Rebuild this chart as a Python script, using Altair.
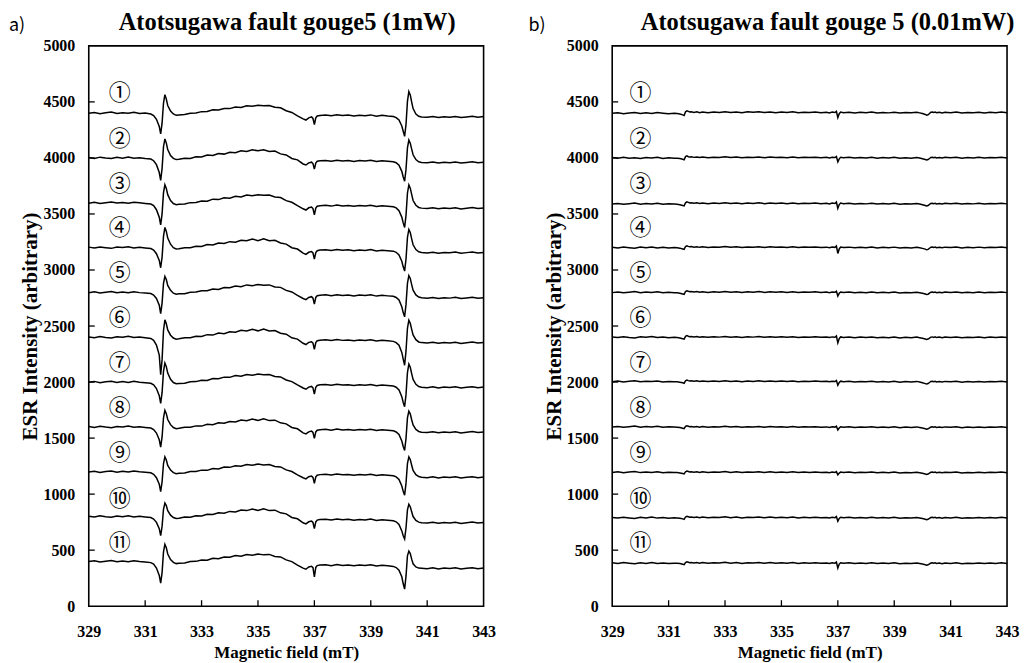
import altair as alt
import pandas as pd

# Magnetic field sample positions (mT)
FIELD = [329.0, 329.2, 329.4, 329.6, 329.8, 330.0, 330.2, 330.4, 330.6, 330.8, 331.0, 331.2,
         331.3, 331.4, 331.5, 331.55, 331.6, 331.65, 331.7, 331.75, 331.8, 331.9, 332.0, 332.1, 332.2,
         332.4, 332.6, 332.8, 333.0, 333.2, 333.4, 333.6, 333.8, 334.0, 334.2, 334.4, 334.6, 334.8,
         335.0, 335.2, 335.4, 335.6, 335.8, 336.0, 336.2, 336.4,
         336.6, 336.7, 336.8, 336.9, 336.95, 337.0, 337.05, 337.1, 337.2,
         337.4, 337.6, 337.8, 338.0, 338.2, 338.4, 338.6, 338.8, 339.0, 339.2, 339.4, 339.6, 339.8,
         339.9, 340.0, 340.1, 340.15, 340.2, 340.25, 340.3, 340.35, 340.4, 340.45, 340.5, 340.6, 340.7, 340.8,
         341.0, 341.2, 341.4, 341.6, 341.8, 342.0, 342.2, 342.4, 342.6, 342.8, 343.0]

# ---- panel a) 1 mW spectra ----
A1 = [4398, 4406, 4394, 4403, 4409, 4396, 4404, 4398, 4407, 4396, 4401, 4392,
      4378, 4345, 4280, 4215, 4310, 4490, 4565, 4525, 4468, 4418, 4392, 4380, 4384,
      4387, 4399, 4401, 4413, 4414, 4429, 4427, 4441, 4440, 4455, 4451, 4466, 4462, 4470, 4466, 4468, 4453, 4448, 4421, 4406, 4376,
      4348, 4338, 4358, 4366, 4352, 4298, 4358, 4374, 4379,
      4383, 4376, 4385, 4379, 4382, 4374, 4381, 4377, 4384, 4372, 4380, 4374, 4370,
      4360, 4338, 4285, 4238, 4192, 4300, 4505, 4592, 4562, 4498, 4440, 4392, 4372, 4366,
      4362, 4369, 4360, 4367, 4363, 4370, 4361, 4366, 4372, 4364, 4369]
A2 = [4003, 3996, 4007, 3999, 3994, 4005, 3998, 4009, 3997, 4002, 3995, 3990,
      3975, 3940, 3870, 3800, 3905, 4100, 4170, 4132, 4075, 4022, 3996, 3985, 3988,
      3998, 3996, 4011, 4008, 4026, 4021, 4040, 4034, 4050, 4046, 4064, 4058, 4072, 4064, 4072, 4057, 4061, 4036, 4027, 3995, 3983,
      3946, 3937, 3956, 3962, 3950, 3900, 3955, 3970, 3975,
      3978, 3971, 3980, 3973, 3977, 3969, 3976, 3972, 3979, 3968, 3974, 3970, 3966,
      3957, 3935, 3880, 3830, 3792, 3900, 4090, 4160, 4132, 4078, 4028, 3985, 3966, 3960,
      3957, 3963, 3955, 3961, 3958, 3964, 3954, 3960, 3966, 3957, 3962]
A3 = [3596, 3604, 3593, 3601, 3607, 3598, 3603, 3595, 3605, 3599, 3594, 3588,
      3574, 3538, 3470, 3402, 3500, 3690, 3760, 3728, 3672, 3620, 3593, 3582, 3586,
      3588, 3601, 3603, 3615, 3614, 3632, 3628, 3645, 3641, 3658, 3651, 3668, 3662, 3672, 3666, 3669, 3651, 3646, 3619, 3604, 3574,
      3546, 3535, 3555, 3561, 3548, 3492, 3553, 3569, 3574,
      3577, 3570, 3579, 3572, 3576, 3568, 3575, 3571, 3578, 3566, 3573, 3568, 3564,
      3554, 3530, 3472, 3420, 3380, 3490, 3685, 3760, 3730, 3674, 3620, 3578, 3558, 3552,
      3548, 3555, 3546, 3553, 3549, 3556, 3545, 3551, 3557, 3548, 3553]
A4 = [3204, 3197, 3206, 3199, 3193, 3205, 3200, 3208, 3196, 3203, 3197, 3191,
      3178, 3145, 3085, 3020, 3115, 3300, 3380, 3345, 3285, 3230, 3199, 3187, 3190,
      3199, 3199, 3212, 3210, 3227, 3223, 3241, 3236, 3253, 3247, 3266, 3261, 3276, 3262, 3278, 3261, 3265, 3241, 3231, 3199, 3187,
      3150, 3139, 3158, 3164, 3152, 3097, 3156, 3172, 3178,
      3181, 3174, 3183, 3176, 3180, 3172, 3179, 3175, 3182, 3170, 3177, 3172, 3168,
      3158, 3135, 3078, 3028, 2990, 3100, 3290, 3362, 3334, 3278, 3225, 3182, 3162, 3156,
      3152, 3159, 3150, 3157, 3153, 3160, 3149, 3155, 3161, 3152, 3157]
A5 = [2797, 2805, 2794, 2802, 2808, 2797, 2803, 2796, 2806, 2798, 2795, 2790,
      2777, 2746, 2685, 2610, 2705, 2880, 2942, 2915, 2862, 2818, 2793, 2783, 2787,
      2789, 2802, 2803, 2815, 2814, 2830, 2827, 2843, 2841, 2856, 2851, 2867, 2860, 2870, 2864, 2867, 2849, 2845, 2818, 2804, 2774,
      2746, 2736, 2755, 2762, 2749, 2696, 2755, 2770, 2775,
      2778, 2771, 2780, 2773, 2777, 2769, 2776, 2772, 2779, 2767, 2774, 2769, 2765,
      2755, 2732, 2672, 2620, 2582, 2695, 2880, 2950, 2925, 2870, 2820, 2778, 2759, 2752,
      2748, 2755, 2746, 2753, 2749, 2756, 2745, 2751, 2757, 2748, 2753]
A6 = [2403, 2396, 2407, 2398, 2393, 2405, 2399, 2408, 2397, 2402, 2396, 2389,
      2372, 2330, 2240, 2065, 2200, 2460, 2555, 2520, 2465, 2418, 2393, 2382, 2386,
      2396, 2395, 2408, 2406, 2423, 2419, 2437, 2432, 2448, 2444, 2462, 2456, 2471, 2457, 2473, 2456, 2460, 2436, 2427, 2395, 2383,
      2346, 2335, 2354, 2360, 2348, 2292, 2353, 2369, 2374,
      2377, 2370, 2379, 2372, 2376, 2368, 2375, 2371, 2378, 2366, 2373, 2368, 2363,
      2352, 2328, 2265, 2205, 2150, 2280, 2480, 2552, 2525, 2470, 2420, 2378, 2358, 2352,
      2348, 2355, 2346, 2353, 2349, 2356, 2345, 2351, 2357, 2348, 2353]
A7 = [1998, 2006, 1995, 2003, 2008, 1996, 2004, 1997, 2007, 1999, 1994, 1989,
      1975, 1942, 1878, 1810, 1905, 2095, 2170, 2138, 2080, 2025, 1996, 1985, 1988,
      1990, 2003, 2004, 2017, 2015, 2032, 2029, 2044, 2042, 2058, 2052, 2068, 2061, 2071, 2065, 2068, 2050, 2046, 2019, 2004, 1974,
      1947, 1936, 1955, 1961, 1949, 1893, 1954, 1970, 1975,
      1978, 1971, 1980, 1973, 1977, 1969, 1976, 1972, 1979, 1967, 1974, 1969, 1964,
      1954, 1930, 1870, 1818, 1780, 1890, 2085, 2160, 2132, 2076, 2024, 1980, 1960, 1954,
      1950, 1957, 1948, 1955, 1951, 1958, 1947, 1953, 1959, 1950, 1955]
A8 = [1603, 1595, 1606, 1598, 1592, 1604, 1599, 1607, 1596, 1601, 1595, 1590,
      1576, 1545, 1485, 1420, 1510, 1680, 1748, 1718, 1666, 1620, 1594, 1584, 1587,
      1597, 1596, 1609, 1607, 1623, 1620, 1636, 1632, 1648, 1643, 1662, 1655, 1671, 1657, 1672, 1656, 1660, 1636, 1627, 1595, 1583,
      1547, 1537, 1556, 1562, 1550, 1497, 1555, 1570, 1575,
      1578, 1571, 1580, 1573, 1577, 1569, 1576, 1572, 1579, 1567, 1574, 1569, 1565,
      1555, 1532, 1474, 1425, 1390, 1500, 1680, 1740, 1716, 1664, 1617, 1577, 1559, 1553,
      1549, 1556, 1547, 1554, 1550, 1557, 1546, 1552, 1558, 1549, 1554]
A9 = [1197, 1204, 1194, 1202, 1207, 1196, 1203, 1197, 1206, 1199, 1195, 1190,
      1177, 1147, 1088, 1022, 1110, 1272, 1332, 1305, 1256, 1215, 1192, 1183, 1186,
      1188, 1201, 1202, 1214, 1212, 1229, 1225, 1241, 1239, 1254, 1249, 1264, 1258, 1268, 1261, 1265, 1247, 1243, 1216, 1202, 1172,
      1146, 1136, 1155, 1161, 1149, 1096, 1154, 1169, 1174,
      1177, 1170, 1179, 1172, 1176, 1168, 1175, 1171, 1178, 1166, 1173, 1168, 1164,
      1154, 1131, 1072, 1025, 990, 1100, 1272, 1332, 1308, 1258, 1212, 1174, 1157, 1151,
      1147, 1154, 1145, 1152, 1148, 1155, 1144, 1150, 1156, 1147, 1152]
A10 = [803, 796, 806, 798, 793, 805, 799, 807, 797, 802, 796, 791,
       778, 748, 692, 630, 712, 865, 920, 898, 852, 812, 791, 782, 785,
       795, 794, 807, 805, 821, 818, 834, 830, 846, 841, 859, 853, 868, 854, 870, 853, 857, 833, 824, 792, 780,
       744, 734, 753, 759, 747, 693, 752, 768, 773,
       776, 769, 778, 771, 775, 767, 774, 770, 777, 765, 772, 767, 763,
       753, 730, 672, 628, 600, 700, 860, 910, 888, 842, 800, 765, 750, 745,
       742, 749, 740, 747, 743, 750, 739, 745, 751, 742, 747]
A11 = [398, 405, 394, 402, 408, 396, 403, 397, 406, 399, 395, 389,
       375, 340, 275, 205, 300, 485, 552, 522, 466, 416, 391, 380, 384,
       386, 399, 400, 412, 410, 427, 423, 439, 437, 452, 446, 461, 455, 465, 458, 462, 444, 440, 413, 398, 367,
       340, 330, 350, 356, 344, 262, 346, 362, 367,
       369, 362, 371, 364, 368, 360, 367, 363, 370, 358, 365, 360, 355,
       345, 322, 262, 200, 152, 270, 450, 492, 470, 420, 378, 350, 340, 338,
       335, 342, 333, 340, 336, 343, 332, 338, 344, 335, 340]

# ---- panel b) 0.01 mW spectra ----
B1 = [4398, 4404, 4395, 4401, 4406, 4397, 4402, 4396, 4405, 4399, 4394, 4398,
      4396, 4392, 4384, 4378, 4412, 4420, 4415, 4410, 4412,
      4406, 4411, 4404, 4409, 4403, 4410, 4405, 4412, 4406, 4409, 4403, 4411, 4407, 4413, 4405, 4410, 4404, 4409, 4406, 4411, 4403, 4408, 4405, 4410, 4404,
      4408, 4402, 4409, 4405, 4416, 4360, 4395, 4410, 4404,
      4408, 4401, 4407, 4403, 4409, 4400, 4406, 4402, 4408, 4401, 4406, 4403, 4407, 4402,
      4396, 4388, 4382, 4385, 4396, 4408, 4410,
      4405, 4409, 4403, 4407, 4402, 4408, 4404, 4409, 4401, 4406, 4403, 4408, 4402, 4407, 4404, 4409, 4403]
B2 = [4003, 3997, 4005, 3998, 4002, 3995, 4004, 3999, 4006, 3996, 4001, 3998,
      3997, 3994, 3988, 3983, 4012, 4018, 4011, 4008, 4010,
      4005, 4009, 4003, 4008, 4002, 4007, 4004, 4010, 4003, 4008, 4001, 4007, 4004, 4009, 4002, 4008, 4003, 4007, 4002, 4008, 4001, 4006, 4003, 4007, 4002,
      4005, 4000, 4006, 4003, 4012, 3965, 3992, 4006, 4001,
      4005, 3999, 4004, 4000, 4006, 3998, 4003, 3999, 4005, 3997, 4002, 3998, 4004, 3999,
      3993, 3986, 3982, 3986, 3995, 4004, 4006,
      4002, 4006, 4000, 4004, 3999, 4005, 4001, 4006, 3998, 4003, 4000, 4005, 3999, 4004, 4001, 4006, 4000]
B3 = [3588, 3594, 3586, 3592, 3597, 3587, 3593, 3589, 3595, 3586, 3591, 3588,
      3587, 3583, 3576, 3572, 3600, 3608, 3603, 3598, 3600,
      3595, 3599, 3593, 3598, 3592, 3597, 3594, 3600, 3593, 3598, 3591, 3597, 3594, 3599, 3592, 3598, 3593, 3597, 3592, 3598, 3591, 3596, 3593, 3597, 3592,
      3595, 3590, 3597, 3593, 3606, 3550, 3584, 3597, 3592,
      3595, 3589, 3594, 3590, 3596, 3588, 3593, 3589, 3595, 3587, 3592, 3588, 3594, 3589,
      3583, 3576, 3571, 3575, 3585, 3594, 3596,
      3592, 3596, 3590, 3594, 3589, 3595, 3591, 3596, 3588, 3593, 3590, 3595, 3589, 3594, 3591, 3596, 3590]
B4 = [3203, 3197, 3205, 3199, 3194, 3204, 3198, 3206, 3197, 3202, 3196, 3200,
      3198, 3195, 3188, 3184, 3210, 3216, 3211, 3207, 3209,
      3204, 3208, 3202, 3207, 3201, 3206, 3203, 3209, 3202, 3207, 3200, 3206, 3203, 3208, 3201, 3207, 3202, 3206, 3201, 3207, 3200, 3205, 3202, 3206, 3201,
      3204, 3199, 3205, 3202, 3214, 3148, 3188, 3204, 3200,
      3204, 3198, 3203, 3199, 3205, 3197, 3202, 3198, 3204, 3196, 3201, 3197, 3203, 3198,
      3193, 3186, 3180, 3184, 3194, 3203, 3205,
      3201, 3205, 3199, 3203, 3198, 3204, 3200, 3205, 3197, 3202, 3199, 3204, 3198, 3203, 3200, 3205, 3199]
B5 = [2798, 2804, 2796, 2802, 2807, 2797, 2803, 2799, 2805, 2796, 2801, 2798,
      2797, 2793, 2786, 2782, 2808, 2815, 2810, 2806, 2808,
      2803, 2807, 2801, 2806, 2800, 2805, 2802, 2808, 2801, 2806, 2799, 2805, 2802, 2807, 2800, 2806, 2801, 2805, 2800, 2806, 2799, 2804, 2801, 2805, 2800,
      2803, 2798, 2804, 2801, 2810, 2768, 2792, 2804, 2799,
      2803, 2797, 2802, 2798, 2804, 2796, 2801, 2797, 2803, 2795, 2800, 2796, 2802, 2797,
      2792, 2786, 2781, 2784, 2793, 2802, 2804,
      2800, 2804, 2798, 2802, 2797, 2803, 2799, 2804, 2796, 2801, 2798, 2803, 2797, 2802, 2799, 2804, 2798]
B6 = [2403, 2397, 2405, 2398, 2394, 2404, 2399, 2406, 2397, 2402, 2396, 2400,
      2398, 2394, 2387, 2383, 2408, 2414, 2409, 2405, 2407,
      2402, 2406, 2400, 2405, 2399, 2404, 2401, 2407, 2400, 2405, 2398, 2404, 2401, 2406, 2399, 2405, 2400, 2404, 2399, 2405, 2398, 2403, 2400, 2404, 2399,
      2402, 2397, 2403, 2400, 2412, 2350, 2388, 2403, 2398,
      2402, 2396, 2401, 2397, 2403, 2395, 2400, 2396, 2402, 2394, 2399, 2395, 2401, 2396,
      2391, 2385, 2381, 2384, 2392, 2401, 2403,
      2399, 2403, 2397, 2401, 2396, 2402, 2398, 2403, 2395, 2400, 2397, 2402, 2396, 2401, 2398, 2403, 2397]
B7 = [2003, 2009, 2001, 2007, 2012, 2002, 2008, 2004, 2010, 2001, 2006, 2003,
      2002, 1999, 1993, 1989, 2012, 2018, 2013, 2010, 2012,
      2007, 2011, 2005, 2010, 2004, 2009, 2006, 2012, 2005, 2010, 2003, 2009, 2006, 2011, 2004, 2010, 2005, 2009, 2004, 2010, 2003, 2008, 2005, 2009, 2004,
      2007, 2002, 2008, 2005, 2014, 1972, 1996, 2008, 2003,
      2007, 2001, 2006, 2002, 2008, 2000, 2005, 2001, 2007, 1999, 2004, 2000, 2006, 2001,
      1994, 1986, 1982, 1987, 1996, 2005, 2007,
      2003, 2007, 2001, 2005, 2000, 2006, 2002, 2007, 1999, 2004, 2001, 2006, 2000, 2005, 2002, 2007, 2001]
B8 = [1598, 1604, 1596, 1602, 1607, 1597, 1603, 1599, 1605, 1596, 1601, 1598,
      1597, 1594, 1588, 1584, 1604, 1610, 1606, 1602, 1604,
      1600, 1604, 1598, 1603, 1597, 1602, 1599, 1605, 1598, 1603, 1596, 1602, 1599, 1604, 1597, 1603, 1598, 1602, 1597, 1603, 1596, 1601, 1598, 1602, 1597,
      1600, 1595, 1601, 1598, 1606, 1572, 1590, 1601, 1597,
      1601, 1595, 1600, 1596, 1602, 1594, 1599, 1595, 1601, 1593, 1598, 1594, 1600, 1595,
      1590, 1584, 1580, 1583, 1591, 1599, 1601,
      1597, 1601, 1595, 1599, 1594, 1600, 1596, 1601, 1593, 1598, 1595, 1600, 1594, 1599, 1596, 1601, 1595]
B9 = [1193, 1199, 1191, 1197, 1202, 1192, 1198, 1194, 1200, 1191, 1196, 1193,
      1192, 1189, 1184, 1180, 1200, 1206, 1202, 1198, 1200,
      1196, 1200, 1194, 1199, 1193, 1198, 1195, 1201, 1194, 1199, 1192, 1198, 1195, 1200, 1193, 1199, 1194, 1198, 1193, 1199, 1192, 1197, 1194, 1198, 1193,
      1196, 1191, 1197, 1194, 1201, 1172, 1188, 1197, 1193,
      1197, 1191, 1196, 1192, 1198, 1190, 1195, 1191, 1197, 1189, 1194, 1190, 1196, 1191,
      1186, 1180, 1176, 1179, 1187, 1195, 1197,
      1193, 1197, 1191, 1195, 1190, 1196, 1192, 1197, 1189, 1194, 1191, 1196, 1190, 1195, 1192, 1197, 1191]
B10 = [792, 786, 794, 788, 783, 793, 787, 795, 786, 791, 785, 789,
       788, 785, 779, 775, 796, 802, 798, 794, 796,
       792, 796, 790, 795, 789, 794, 791, 797, 790, 795, 788, 794, 791, 796, 789, 795, 790, 794, 789, 795, 788, 793, 790, 794, 789,
       792, 787, 793, 790, 800, 758, 783, 794, 789,
       793, 787, 792, 788, 794, 786, 791, 787, 793, 785, 790, 786, 792, 787,
       782, 776, 772, 775, 783, 791, 793,
       789, 793, 787, 791, 786, 792, 788, 793, 785, 790, 787, 792, 786, 791, 788, 793, 787]
B11 = [387, 381, 389, 383, 378, 388, 382, 390, 381, 386, 380, 384,
       383, 380, 374, 370, 390, 396, 392, 388, 390,
       386, 390, 384, 389, 383, 388, 385, 391, 384, 389, 382, 388, 385, 390, 383, 389, 384, 388, 383, 389, 382, 387, 384, 388, 383,
       386, 381, 387, 384, 394, 340, 376, 388, 383,
       387, 381, 386, 382, 388, 380, 385, 381, 387, 379, 384, 380, 386, 381,
       376, 370, 366, 369, 377, 385, 387,
       383, 387, 381, 385, 380, 386, 382, 387, 379, 384, 381, 386, 380, 385, 382, 387, 381]

A_TRACES = [A1, A2, A3, A4, A5, A6, A7, A8, A9, A10, A11]
B_TRACES = [B1, B2, B3, B4, B5, B6, B7, B8, B9, B10, B11]

LABELS = ["①", "②", "③", "④", "⑤", "⑥", "⑦", "⑧", "⑨", "⑩", "⑪"]
LABEL_Y = [4575, 4165, 3770, 3375, 2975, 2570, 2170, 1770, 1370, 960, 560]
LABEL_X_A = 330.1
LABEL_X_B = 330.0

X_LABELS = [329, 331, 333, 335, 337, 339, 341, 343]
Y_LABELS = [0, 500, 1000, 1500, 2000, 2500, 3000, 3500, 4000, 4500, 5000]
X_TICKS = [331, 333, 335, 337, 339, 341]
Y_TICKS = [500, 1000, 1500, 2000, 2500, 3000, 3500, 4000, 4500]

TITLE_A = "Atotsugawa fault gouge5 (1mW)"
TITLE_B = "Atotsugawa fault gouge 5 (0.01mW)"

W, H = 396, 562
SERIF = "Liberation Serif"
CJK = "Noto Sans CJK JP"


def long_df(traces):
    rows = []
    for i, tr in enumerate(traces):
        if len(tr) != len(FIELD):
            raise ValueError(f"trace {i+1} has {len(tr)} points")
        for f, v in zip(FIELD, tr):
            rows.append({"field": f, "esr": v, "trace": i + 1})
    return pd.DataFrame(rows)


def panel(traces, label_x, tag, tag_x, title, title_x):
    xs = alt.Scale(domain=[329, 343], nice=False, zero=False)
    ys = alt.Scale(domain=[0, 5000], nice=False, zero=False)
    xaxis = alt.Axis(values=X_LABELS, format="d", title="Magnetic field (mT)",
                     ticks=False, domain=False, grid=False, labelFlush=False,
                     labelOverlap=False, labelPadding=17, titlePadding=5)
    yaxis = alt.Axis(values=Y_LABELS, format="d", title="ESR Intensity (arbitrary)",
                     ticks=False, domain=False, grid=False, labelFlush=False,
                     labelOverlap=False, labelPadding=14, titlePadding=2,
                     titleFontSize=21)
    lines = alt.Chart(long_df(traces)).mark_line(color="black", strokeWidth=1.5).encode(
        x=alt.X("field:Q", scale=xs, axis=xaxis),
        y=alt.Y("esr:Q", scale=ys, axis=yaxis),
        detail="trace:N",
    )
    lab_df = pd.DataFrame({"field": [label_x] * len(LABELS), "esr": LABEL_Y, "lab": LABELS})
    labels = alt.Chart(lab_df).mark_text(font=CJK, fontSize=22, color="black").encode(
        x=alt.X("field:Q", scale=xs), y=alt.Y("esr:Q", scale=ys), text="lab:N")
    yt = alt.Chart(pd.DataFrame({"esr": Y_TICKS})).mark_rule(color="black", strokeWidth=1.3).encode(
        y=alt.Y("esr:Q", scale=ys), x=alt.value(0), x2=alt.value(6))
    xt = alt.Chart(pd.DataFrame({"field": X_TICKS})).mark_rule(color="black", strokeWidth=1.3).encode(
        x=alt.X("field:Q", scale=xs), y=alt.value(H), y2=alt.value(H - 6))
    tagc = alt.Chart(pd.DataFrame({"t": [tag]})).mark_text(
        font=CJK, fontSize=18, align="left", baseline="alphabetic", color="black").encode(
        x=alt.value(tag_x), y=alt.value(-15), text="t:N")
    tit = alt.Chart(pd.DataFrame({"t": [title]})).mark_text(
        font=SERIF, fontWeight="bold", fontSize=24.5, align="center", baseline="alphabetic",
        color="black").encode(x=alt.value(title_x), y=alt.value(-16), text="t:N")
    return alt.layer(lines, labels, yt, xt, tagc, tit).properties(width=W, height=H)


left = panel(A_TRACES, LABEL_X_A, "a)", -80, TITLE_A, 199)
right = panel(B_TRACES, LABEL_X_B, "b)", -84, TITLE_B, 216)

chart = alt.hconcat(left, right, spacing=31).properties(
    padding=0, background="white"
).configure_view(
    stroke="black", strokeWidth=1.6
).configure_axis(
    labelFont=SERIF, labelFontWeight="bold", labelFontSize=16, labelColor="black",
    titleFont=SERIF, titleFontWeight="bold", titleFontSize=17, titleColor="black",
)

chart.save("out.html", embed_options={"renderer": "svg", "actions": False})
